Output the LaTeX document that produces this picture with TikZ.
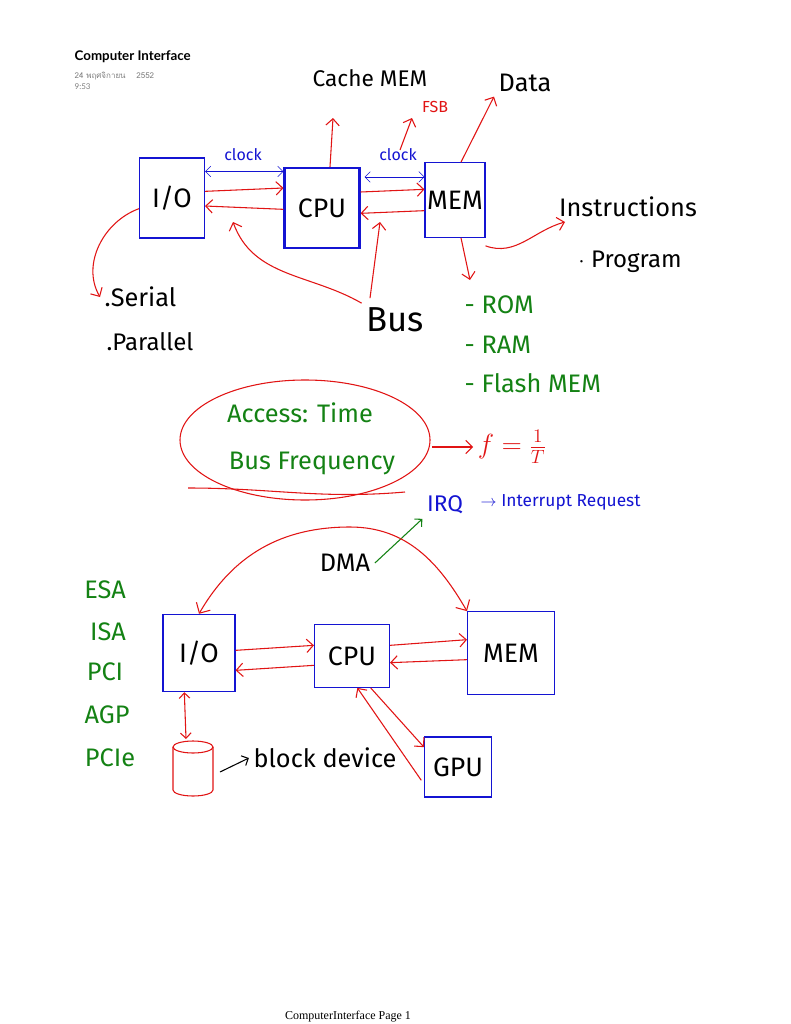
\documentclass[tikz,border=0pt]{standalone}
\usepackage{fontspec}
\setmainfont{Liberation Serif}
\newfontfamily\hand{Fira Sans}[Scale=1]
\newfontfamily\thaifont[Script=Thai]{Loma}
\newfontfamily\hdr{Lato}
\usetikzlibrary{arrows.meta,shapes.geometric}
\definecolor{pblue}{RGB}{20,20,210}
\definecolor{pred}{RGB}{225,20,20}
\definecolor{pgreen}{RGB}{20,130,20}
\begin{document}
\begin{tikzpicture}[x=0.75pt,y=-0.75pt,
 box/.style={draw=pblue,thick,minimum width=#1*0.75pt,inner sep=0pt,font=\hand\fontsize{20}{20}\selectfont},
 ra/.style={draw=pred,thick,-{Straight Barb[length=5pt]}},
 hb/.style={font=\hand\fontsize{#1}{#1}\selectfont,pblue},
 hg/.style={font=\hand\fontsize{#1}{#1}\selectfont,pgreen},
 hr/.style={font=\hand\fontsize{#1}{#1}\selectfont,pred},
 hk/.style={font=\hand\fontsize{#1}{#1}\selectfont,black}]
\useasboundingbox[fill=white] (0,0) rectangle (791,1024);
\node[anchor=west,font=\hdr\bfseries\fontsize{10}{10}\selectfont] (title) at (70,57) {Computer Interface};
\node[anchor=west,gray,font=\thaifont\fontsize{6}{6}\selectfont] (date) at (70,76) {24 พฤศจิกายน \quad 2552};
\node[anchor=west,gray,font=\hdr\fontsize{6}{6}\selectfont] (time) at (70,87) {9:53};
% top boxes
\node[box=65,minimum height=60pt] (io) at (172,198) {I/O};
\node[box=75,minimum height=60pt,ultra thick] (cpu) at (322,208) {CPU};
\node[box=60,minimum height=56pt] (mem) at (455,200) {MEM};
\node[hb=12] (clk1) at (243,155) {clock};
\node[hb=12] (clk2) at (398,155) {clock};
\draw[pblue,{Straight Barb[length=4pt]}-{Straight Barb[length=4pt]}] (io.north east)++(0,14) coordinate(a1) -- (cpu.north west|-a1);
\draw[pblue,{Straight Barb[length=4pt]}-{Straight Barb[length=4pt]}] (cpu.north east)++(4,10) coordinate(a2) -- (mem.north west|-a2);
\draw[ra] ([yshift=5pt]io.east) -- ([yshift=15pt]cpu.west);
\draw[ra] ([yshift=-1pt]cpu.west) -- ([yshift=-6pt]io.east);
\draw[ra] ([yshift=12pt]cpu.east) -- ([yshift=8pt]mem.west);
\draw[ra] ([yshift=-8pt]mem.west) -- ([yshift=-4pt]cpu.east);
\node[hk=17] (cache) at (370,78) {Cache MEM};
\draw[ra] (cpu.north) ++(8,0) coordinate(c1) -- (333,118);
\node[hr=12] (fsb) at (435,107) {FSB};
\coordinate (f0) at (400,150);
\draw[ra] (f0) -- (412,118);
\node[hk=19] (data) at (525,83) {Data};
\draw[ra] (mem.north) ++(6,0) -- (data.south west);
\node[hk=19] (instr) at (628,207) {Instructions};
\node[hk=18] (prog) at (630,262) {$\cdot$ Program};
\coordinate (ie) at (565,222);
\draw[ra] ([yshift=-6pt]mem.south east) to[out=-20,in=195] (ie);
\draw[ra] (mem.south) ++(6,0) -- (470,280);
\node[hg=19,anchor=west] (rom) at (460,305) {- ROM};
\node[hg=19,anchor=west] (ram) at (460,345) {- RAM};
\node[hg=19,anchor=west] (flash) at (460,383) {- Flash MEM};
\node[hk=19,anchor=west] (ser) at (100,297) {.Serial};
\node[hk=18,anchor=west] (par) at (102,342) {.Parallel};
\draw[ra] ([yshift=-8pt]io.west) to[out=200,in=120] (ser.west);
\node[hk=26] (bus) at (395,320) {Bus};
\draw[ra] (bus.north west) to[out=150,in=-70] (233,222);
\draw[ra] (bus.north) ++(-25,-5) -- (380,222);
% ellipse
\draw[pred,thick] (305,440) ellipse[x radius=125,y radius=60];
\draw[pred,thick] (188,488) to[out=0,in=185] (405,492);
\node[hg=19] (acc) at (300,413) {Access: Time};
\node[hg=19] (bfq) at (312,463) {Bus Frequency};
\node[hr=22] (freq) at (512,447) {$f = \frac{1}{T}$};
\draw[ra] (432,447) -- (freq.west);
\node[hb=17] (irq) at (445,505) {IRQ};
\node[hb=13,anchor=west] (ir) at (476,502) {$\rightarrow$ Interrupt Request};
\node[hk=19] (dma) at (345,563) {DMA};
\draw[pgreen,thick,-{Straight Barb[length=4pt]}] (dma.east) -- (irq.south west);
% bottom
\node[box=72,minimum height=58pt] (io2) at (199,653) {I/O};
\node[box=75,minimum height=47pt] (cpu2) at (352,656) {CPU};
\node[box=87,minimum height=62pt] (mem2) at (511,653) {MEM};
\node[box=67,minimum height=45pt] (gpu) at (458,767) {GPU};
\draw[pred,thick,{Straight Barb[length=6pt]}-{Straight Barb[length=6pt]}] (io2.north) to[out=60,in=180] (350,527) to[out=0,in=120] (mem2.north west);
\draw[ra] ([yshift=2pt]io2.east) -- ([yshift=8pt]cpu2.west);
\draw[ra] ([yshift=-7pt]cpu2.west) -- ([yshift=-13pt]io2.east);
\draw[ra] ([yshift=8pt]cpu2.east) -- ([yshift=10pt]mem2.west);
\draw[ra] ([yshift=-5pt]mem2.west) -- ([yshift=-5pt]cpu2.east);
\draw[ra] ([xshift=14pt]cpu2.south) -- ([yshift=-8pt]gpu.north west);
\draw[ra] ([xshift=-2pt,yshift=-10pt]gpu.west) -- ([xshift=4pt]cpu2.south);
% cylinder
\coordinate (disk) at (193,745);
\draw[pred,thick] (193,747) ellipse[x radius=20,y radius=6];
\draw[pred,thick] (173,747) -- (173,790) arc[start angle=180,end angle=0,x radius=20,y radius=6] -- (213,747);
\draw[pred,thick,{Straight Barb[length=4pt]}-{Straight Barb[length=4pt]}] ([xshift=-11pt]io2.south) -- (186,739);
\node[hk=19] (bd) at (325,758) {block device};
\draw[thick,-{Straight Barb[length=4pt]}] (220,772) -- (bd.west);
\node[hg=19] (esa) at (105,590) {ESA};
\node[hg=19] (isa) at (108,632) {ISA};
\node[hg=19] (pci) at (105,672) {PCI};
\node[hg=19] (agp) at (107,715) {AGP};
\node[hg=19] (pcie) at (110,758) {PCIe};
\node[font=\fontsize{9}{9}\selectfont] (foot) at (348,1017) {ComputerInterface Page 1};
\end{tikzpicture}
\end{document}
